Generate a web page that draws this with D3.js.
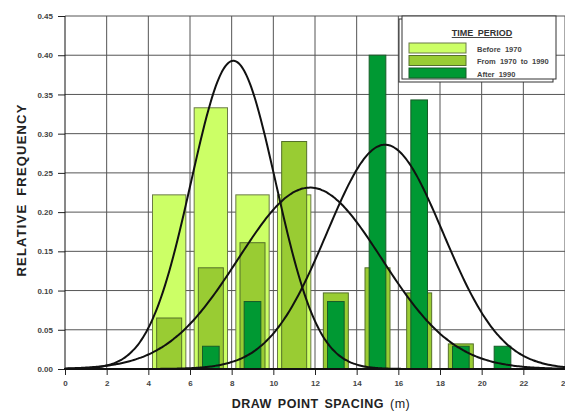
<!DOCTYPE html>
<html>
<head>
<meta charset="utf-8">
<script src="https://cdn.jsdelivr.net/npm/d3@7"></script>
<style>
  body { margin: 0; background: #fff; }
  svg { display: block; font-family: "Liberation Sans", Arial, sans-serif; }
</style>
</head>
<body>
<script>
var width = 565,
  height = 414;

// Data: relative frequency per 2 m bin (bin centres)
var binCenters = [5, 7, 9, 11, 13, 15, 17, 19, 21];
var before1970 = [0.222, 0.333, 0.222, 0.222, 0, 0, 0, 0, 0];
var from1970to1990 = [0.065, 0.129, 0.161, 0.290, 0.097, 0.129, 0.097, 0.032, 0];
var after1990 = [0, 0.029, 0.086, 0, 0.086, 0.400, 0.343, 0.029, 0.029];

// fitted normal curves (mean, sd), scaled to 2 m bins
var curveMeans = [8.08, 11.76, 15.36];
var curveSds = [2.03, 3.45, 2.79];
var binWidth = 2;

var seriesNames = ["Before  1970", "From  1970  to  1990", "After  1990"];
var xTicks = [0, 2, 4, 6, 8, 10, 12, 14, 16, 18, 20, 22, 24];
var yTicks = [0, 0.05, 0.10, 0.15, 0.20, 0.25, 0.30, 0.35, 0.40, 0.45];

var colors = ["#ccff66", "#99cc33", "#009933"];
var strokes = ["#6b7a48", "#55702a", "#175c28"];
var barWidths = [1.6, 1.2, 0.8];

var svg = d3.select("body").append("svg")
  .attr("width", width)
  .attr("height", height);

var x = d3.scaleLinear().domain([0, 24]).range([65, 565]);
var y = d3.scaleLinear().domain([0, 0.45]).range([369, 16]);

// grid
svg.append("g").selectAll("line")
  .data(xTicks.slice(1))
  .enter().append("line")
  .attr("x1", d => x(d)).attr("x2", d => x(d))
  .attr("y1", y(0)).attr("y2", y(0.45))
  .attr("stroke", "#555").attr("stroke-width", 1);

svg.append("g").selectAll("line")
  .data(yTicks.slice(1))
  .enter().append("line")
  .attr("x1", x(0)).attr("x2", x(24))
  .attr("y1", d => y(d)).attr("y2", d => y(d))
  .attr("stroke", "#555").attr("stroke-width", 1);

// bars
var allSeries = [before1970, from1970to1990, after1990];
allSeries.forEach(function (vals, i) {
  svg.append("g").selectAll("rect")
    .data(vals.map((v, j) => ({ c: binCenters[j], v: v })).filter(d => d.v > 0))
    .enter().append("rect")
    .attr("x", d => x(d.c - barWidths[i] / 2))
    .attr("width", d => x(d.c + barWidths[i] / 2) - x(d.c - barWidths[i] / 2))
    .attr("y", d => y(d.v))
    .attr("height", d => y(0) - y(d.v))
    .attr("fill", colors[i])
    .attr("stroke", strokes[i])
    .attr("stroke-width", 1);
});

// curves
var line = d3.line()
  .x(d => x(d[0]))
  .y(d => y(d[1]))
  .curve(d3.curveBasis);

curveMeans.forEach(function (mu, i) {
  var sd = curveSds[i];
  var pts = d3.range(0, 24.01, 0.1).map(function (t) {
    var z = (t - mu) / sd;
    return [t, binWidth * Math.exp(-0.5 * z * z) / (sd * Math.sqrt(2 * Math.PI))];
  });
  svg.append("path")
    .datum(pts)
    .attr("d", line)
    .attr("fill", "none")
    .attr("stroke", "#111")
    .attr("stroke-width", 2);
});

// axes
var xAxis = svg.append("g")
  .attr("transform", "translate(0," + y(0) + ")")
  .call(d3.axisBottom(x).tickValues(xTicks).tickSize(6).tickPadding(5).tickFormat(d3.format("d")));
xAxis.select(".domain").remove();
xAxis.selectAll("line").attr("stroke", "#222");

var yAxis = svg.append("g")
  .attr("transform", "translate(" + x(0) + ",0)")
  .call(d3.axisLeft(y).tickValues(yTicks).tickSize(7).tickPadding(5).tickFormat(d3.format(".2f")));
yAxis.select(".domain").remove();
yAxis.selectAll("line").attr("stroke", "#222");

svg.selectAll(".tick text")
  .attr("font-family", "Liberation Sans, Arial, sans-serif")
  .attr("font-size", 8)
  .attr("font-weight", "bold")
  .attr("fill", "#444");

svg.append("line")
  .attr("x1", x(0)).attr("x2", x(0))
  .attr("y1", y(0)).attr("y2", y(0.45))
  .attr("stroke", "#111").attr("stroke-width", 1);
svg.append("line")
  .attr("x1", x(0) - 1).attr("x2", x(24))
  .attr("y1", y(0)).attr("y2", y(0))
  .attr("stroke", "#111").attr("stroke-width", 2);

// axis titles
var xt = svg.append("text")
  .attr("x", 321).attr("y", 408)
  .attr("text-anchor", "middle")
  .attr("font-size", 12.5)
  .attr("letter-spacing", 0.5)
  .attr("word-spacing", 2)
  .attr("fill", "#222");
xt.append("tspan").attr("font-weight", "bold").text("DRAW POINT SPACING ");
xt.append("tspan").text("(m)");

svg.append("text")
  .attr("transform", "translate(26,190) rotate(-90)")
  .attr("text-anchor", "middle")
  .attr("font-size", 13)
  .attr("font-weight", "bold")
  .attr("letter-spacing", 1.2)
  .attr("word-spacing", 3)
  .attr("fill", "#222")
  .text("RELATIVE FREQUENCY");

// legend
var lg = svg.append("g").attr("transform", "translate(402,16)");
lg.append("rect")
  .attr("x", -3).attr("y", 3).attr("width", 154).attr("height", 63)
  .attr("fill", "#fff").attr("stroke", "#333");
lg.append("rect")
  .attr("x", 0).attr("y", 0).attr("width", 154).attr("height", 63)
  .attr("fill", "#fff").attr("stroke", "#333");
lg.append("text")
  .attr("x", 80).attr("y", 20)
  .attr("text-anchor", "middle")
  .attr("font-size", 9)
  .attr("font-weight", "bold")
  .attr("text-decoration", "underline")
  .attr("word-spacing", 2)
  .attr("fill", "#333")
  .text("TIME  PERIOD");

seriesNames.forEach(function (name, i) {
  var row = lg.append("g").attr("transform", "translate(7," + (27 + i * 12.5) + ")");
  row.append("rect")
    .attr("width", 57).attr("height", 10)
    .attr("fill", colors[i]).attr("stroke", strokes[i]);
  row.append("text")
    .attr("x", 68).attr("y", 8.5)
    .attr("font-size", 7.5)
    .attr("font-weight", "bold")
    .attr("fill", "#444")
    .attr("style", "white-space:pre")
    .text(name);
});
</script>
</body>
</html>
